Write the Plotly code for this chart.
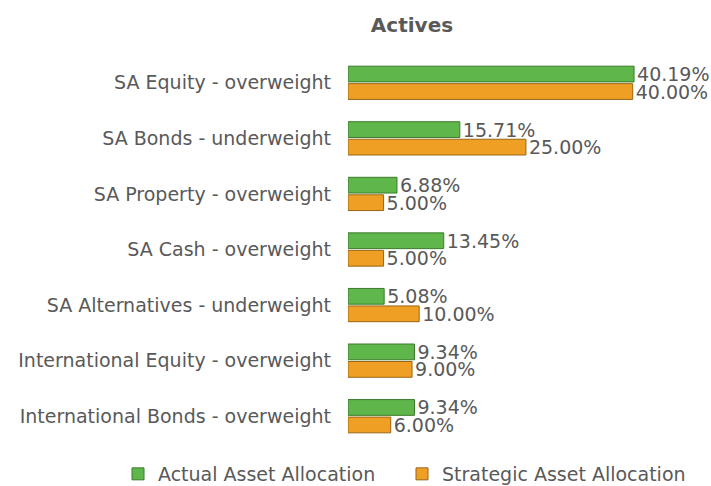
import plotly.graph_objects as go

categories = [
    "SA Equity - overweight",
    "SA Bonds - underweight",
    "SA Property - overweight",
    "SA Cash - overweight",
    "SA Alternatives - underweight",
    "International Equity - overweight",
    "International Bonds - overweight",
]
actual = [40.19, 15.71, 6.88, 13.45, 5.08, 9.34, 9.34]
strategic = [40.00, 25.00, 5.00, 5.00, 10.00, 9.00, 6.00]

FONT = "DejaVu Sans"
GRAY = "#595959"

fig = go.Figure()
fig.add_trace(go.Bar(
    y=categories, x=actual, orientation="h", name="Actual Asset Allocation",
    marker=dict(color="#5fb64a", line=dict(color="#3c7a2c", width=1)),
    text=[f"{v:.2f}%" for v in actual], textposition="outside",
    constraintext="none", legend="legend", showlegend=True,
    textfont=dict(color=GRAY, size=19, family=FONT), cliponaxis=False,
))
fig.add_trace(go.Bar(
    y=categories, x=strategic, orientation="h", name="Strategic Asset Allocation",
    marker=dict(color="#efa024", line=dict(color="#9a6514", width=1)),
    text=[f"{v:.2f}%" for v in strategic], textposition="outside",
    constraintext="none", legend="legend2", showlegend=True,
    textfont=dict(color=GRAY, size=19, family=FONT), cliponaxis=False,
))

# one legend per series so the two entries sit where the original has them
leg = dict(orientation="h", xanchor="left", xref="container",
           yref="container", y=12 / 486, yanchor="middle",
           font=dict(size=19, color=GRAY), bgcolor="rgba(0,0,0,0)")

fig.update_layout(
    width=711, height=486, showlegend=True,
    margin=dict(l=348, r=0, t=55, b=42, autoexpand=False),
    paper_bgcolor="white", plot_bgcolor="white",
    barmode="group", bargap=0.37, bargroupgap=0.1,
    font=dict(family=FONT, color=GRAY, size=19),
    title=dict(text="<b>Actives</b>", x=412 / 711, xanchor="center",
               y=1 - 25 / 486, yref="container", yanchor="middle",
               font=dict(size=20, color=GRAY)),
    xaxis=dict(range=[0, 51], visible=False, automargin=False),
    yaxis=dict(autorange="reversed", showline=False, showgrid=False,
               automargin=False, ticks="", ticklabelstandoff=16,
               tickfont=dict(size=19, color=GRAY)),
    legend=dict(leg, x=118 / 711),
    legend2=dict(leg, x=402 / 711),
)

fig.write_html("out.html", config={"displayModeBar": False},
               post_script="document.body.style.margin='0';")
